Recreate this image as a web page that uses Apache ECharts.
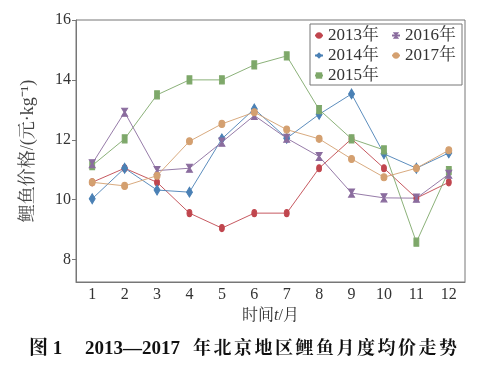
<!DOCTYPE html>
<html><head><meta charset="utf-8">
<script src="https://cdn.jsdelivr.net/npm/echarts@6/dist/echarts.min.js"></script>
<style>html,body{margin:0;padding:0;background:#fff}#c{width:486px;height:369px}</style>
</head><body><div id="c"></div>
<script>
var months = ['1','2','3','4','5','6','7','8','9','10','11','12'];
var yTicks = [8, 10, 12, 14, 16];
var s2013 = [10.58, 11.05, 10.58, 9.55, 9.05, 9.55, 9.55, 11.05, 12.03, 11.05, 10.05, 10.58];
var s2014 = [10.03, 11.05, 10.32, 10.25, 12.03, 13.03, 12.05, 12.85, 13.53, 11.53, 11.05, 11.56];
var s2015 = [11.14, 12.03, 13.5, 14.0, 14.0, 14.5, 14.8, 13.01, 12.03, 11.66, 8.58, 10.97];
var s2016 = [11.2, 12.92, 10.97, 11.05, 11.92, 12.81, 12.05, 11.44, 10.22, 10.06, 10.05, 10.85];
var s2017 = [10.58, 10.46, 10.8, 11.95, 12.53, 12.92, 12.34, 12.03, 11.36, 10.75, 11.05, 11.65];

var serif = '"Liberation Serif","Noto Serif CJK SC","Noto Sans CJK SC",serif';
var colors = {
  '2013年': '#c0464e', '2014年': '#4a80b5', '2015年': '#7ea86a',
  '2016年': '#8a6c9e', '2017年': '#d4a070'
};
var hourglass = 'path://M0,0 L10,0 L6,5 L10,10 L0,10 L4,5 Z';
function mk(name, data, symbol, size) {
  return {
    name: name, type: 'line', data: data, symbol: symbol, symbolSize: size,
    lineStyle: { width: 0.9, color: colors[name] },
    itemStyle: { color: colors[name], borderColor: colors[name] },
    emphasis: { disabled: true }, z: 2
  };
}
var captionChars = '年北京地区鲤鱼月度均价走势'.split('');
var graphics = [
  { type: 'rect', shape: { x: 310, y: 24, width: 152, height: 61 },
    style: { fill: 'none', stroke: '#777', lineWidth: 1 }, z: 1 },
  { type: 'text', left: 29, top: 340,
    style: { text: '图 1', fontFamily: serif, fontSize: 19, fontWeight: 'bold', fill: '#111' } },
  { type: 'text', left: 85, top: 340,
    style: { text: '2013—2017', fontFamily: serif, fontSize: 19, fontWeight: 'bold', fill: '#111' } }
];
captionChars.forEach(function (ch, i) {
  graphics.push({ type: 'text', left: 193 + i * 20.5, top: 340,
    style: { text: ch, fontFamily: serif, fontSize: 18, fontWeight: 'bold', fill: '#111' } });
});
var chart = echarts.init(document.getElementById('c'));
var legendText = { fontFamily: serif, fontSize: 17, color: '#333' };
chart.setOption({
  animation: false,
  backgroundColor: '#fff',
  grid: { left: 76, right: 21, top: 20, bottom: 87, show: true, borderColor: '#777', borderWidth: 1 },
  xAxis: {
    type: 'category', data: months, boundaryGap: true,
    axisLine: { lineStyle: { color: '#777', width: 1 } },
    axisTick: { alignWithLabel: true, inside: true, length: 4, lineStyle: { color: '#777' } },
    axisLabel: { fontFamily: serif, fontSize: 16, color: '#333', margin: 5 },
    name: '{a|时间}{i|t}{a|/月}', nameLocation: 'middle', nameGap: 24,
    nameTextStyle: { rich: {
      a: { fontFamily: serif, fontSize: 16, color: '#333' },
      i: { fontFamily: serif, fontSize: 16, color: '#333', fontStyle: 'italic' } } }
  },
  yAxis: {
    type: 'value', min: 7.25, max: 16,
    splitLine: { show: false },
    axisLine: { show: true, lineStyle: { color: '#777', width: 1 } },
    axisTick: { show: true, length: 4, customValues: yTicks, lineStyle: { color: '#777' } },
    axisLabel: { fontFamily: serif, fontSize: 16, color: '#333', margin: 5, customValues: yTicks },
    name: '鲤鱼价格/(元·kg⁻¹)', nameLocation: 'middle', nameGap: 39,
    nameTextStyle: { fontFamily: serif, fontSize: 18, color: '#444' }
  },
  legend: [
    { data: ['2013年', '2014年', '2015年'], orient: 'vertical', left: 314, top: 27, padding: 0,
      itemWidth: 8, itemHeight: 8, itemGap: 3, textStyle: legendText },
    { data: ['2016年', '2017年'], orient: 'vertical', left: 391, top: 27, padding: 0,
      itemWidth: 8, itemHeight: 8, itemGap: 3, textStyle: legendText }
  ],
  graphic: graphics,
  series: [
    mk('2013年', s2013, 'circle', [5, 7]),
    mk('2014年', s2014, 'diamond', [6, 10]),
    mk('2015年', s2015, 'rect', [5, 8]),
    mk('2016年', s2016, hourglass, [6, 8]),
    mk('2017年', s2017, 'circle', [6, 7])
  ]
});
</script></body></html>
